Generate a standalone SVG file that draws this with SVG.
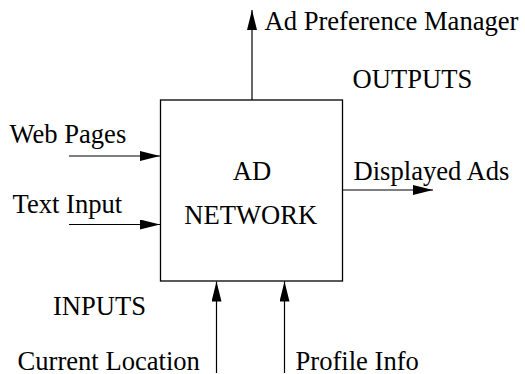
<svg xmlns="http://www.w3.org/2000/svg" width="525" height="374" viewBox="0 0 525 374">
<defs>
<marker id="ah" markerUnits="userSpaceOnUse" markerWidth="22" markerHeight="12" refX="20" refY="5" orient="auto">
<path d="M0,0 L20,5 L0,10 Z" fill="#000"/>
</marker>
<style>
.t{font-family:'Liberation Serif','Times New Roman',serif;font-size:26.6px;fill:#000}
.c{stroke:#000;stroke-width:1.2;fill:none}
</style>
</defs>
<rect width="525" height="374" fill="#fff"/>
<g id="ad-network">
<rect x="160.5" y="100" width="182" height="181" fill="#fff" stroke="#000" stroke-width="1.3"/>
<text class="t" x="252" y="179.5" text-anchor="middle">AD</text>
<text class="t" x="250.7" y="224" text-anchor="middle">NETWORK</text>
</g>
<g id="connectors">
<line class="c" x1="252" y1="100" x2="252" y2="10" marker-end="url(#ah)"/>
<line class="c" x1="69" y1="156" x2="160" y2="156" marker-end="url(#ah)"/>
<line class="c" x1="69" y1="224.5" x2="160" y2="224.5" marker-end="url(#ah)"/>
<line class="c" x1="342.5" y1="190" x2="433" y2="190" marker-end="url(#ah)"/>
<line class="c" x1="216.5" y1="373" x2="216.5" y2="281.5" marker-end="url(#ah)"/>
<line class="c" x1="284.5" y1="373" x2="284.5" y2="281.5" marker-end="url(#ah)"/>
</g>
<g id="labels">
<text class="t" x="264.5" y="30">Ad Preference Manager</text>
<text class="t" x="352.5" y="87.5">OUTPUTS</text>
<text class="t" x="9.5" y="142.5">Web Pages</text>
<text class="t" x="12.5" y="212.5">Text Input</text>
<text class="t" x="353.5" y="179.5">Displayed Ads</text>
<text class="t" x="53" y="315">INPUTS</text>
<text class="t" x="17.5" y="369.5">Current Location</text>
<text class="t" x="295.5" y="369.5">Profile Info</text>
</g>
</svg>
